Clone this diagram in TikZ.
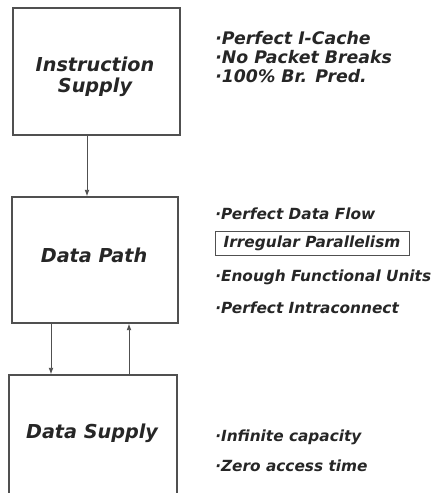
\documentclass[tikz,border=0pt]{standalone}
\usepackage{fontspec}
\setmainfont{DejaVu Sans}
\usetikzlibrary{arrows.meta}
\definecolor{ink}{HTML}{262626}
\definecolor{edge}{HTML}{505050}
\begin{document}
\begin{tikzpicture}[x=0.75pt,y=-0.75pt,
  box/.style={draw=edge,line width=0.8pt,minimum width=#1,inner sep=0pt},
  lbl/.style={text=ink,font=\fontsize{14.4}{16}\selectfont\bfseries\itshape,align=center,inner sep=0pt},
  item/.style={text=ink,font=\fontsize{11.5}{13}\selectfont\bfseries\itshape,anchor=west,inner sep=0pt},
  topitem/.style={item,font=\fontsize{13}{14}\selectfont\bfseries\itshape},
  arr/.style={draw=edge,line width=0.7pt,-{Latex[length=5pt,width=3.6pt]}}]
\useasboundingbox (0,0) rectangle (434,493);
\clip (0,0) rectangle (434,493);
% boxes
\node[box=167*0.75pt,minimum height=127*0.75pt] (b1) at (96.5,71.5) {};
\node[box=166*0.75pt,minimum height=126*0.75pt] (b2) at (95,260) {};
\node[box=168*0.75pt,minimum height=160*0.75pt] (b3) at (93,455) {};
% labels
\node[lbl] (l1) at (95,77) {Instruction\\Supply};
\node[lbl] (l2) at (94,255) {Data Path};
\node[lbl] (l3) at (92,433) {Data Supply};
% arrows
\draw[arr] (b1.south -| 87,0) -- (b2.north -| 87,0);
\draw[arr] (b2.south -| 51,0) -- (b3.north -| 51,0);
\draw[arr] (b3.north -| 129,0) -- (b2.south -| 129,0);
% items
\node[topitem] (i1) at (215,38) {·Perfect I-Cache};
\node[topitem] (i2) at (215,57) {·No Packet Breaks};
\node[topitem] (i3) at (215,76) {·100\% Br. Pred.};
\node[item] (i4) at (215,214) {·Perfect Data Flow};
\node[draw=edge,line width=0.7pt,text=ink,font=\fontsize{11.5}{13}\selectfont\bfseries\itshape,minimum width=194*0.75pt,minimum height=24*0.75pt,inner sep=0pt] (i5) at (312,243) {Irregular Parallelism};
\node[item] (i6) at (215,277) {·Enough Functional Units};
\node[item] (i7) at (215,308) {·Perfect Intraconnect};
\node[item] (i8) at (215,437) {·Infinite capacity};
\node[item] (i9) at (215,466) {·Zero access time};
\end{tikzpicture}
\end{document}
